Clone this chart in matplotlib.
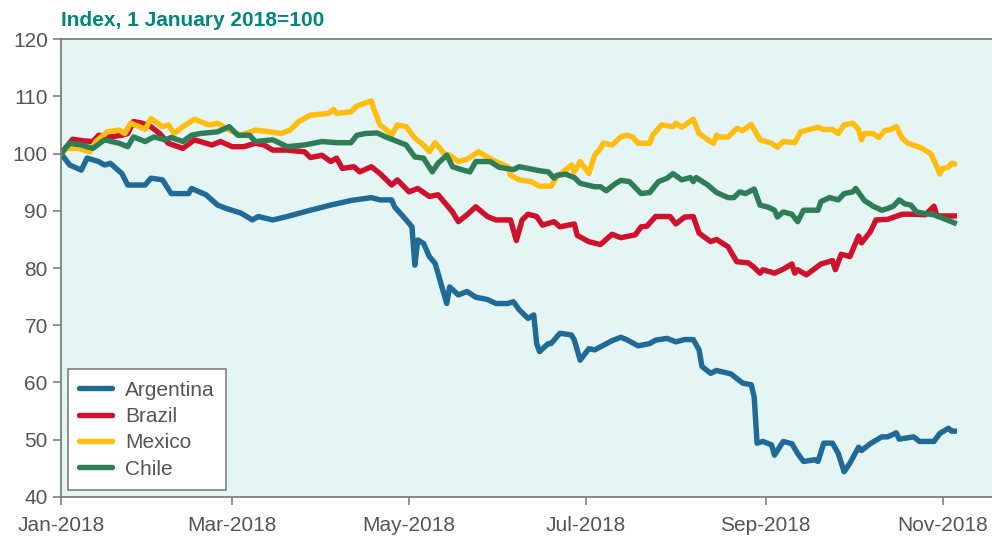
import matplotlib
matplotlib.use('Agg')
import matplotlib.pyplot as plt
import matplotlib.dates as mdates
import pandas as pd

plt.rcParams['font.family'] = ['Liberation Sans', 'DejaVu Sans']

# days counted from 1 January 2018, index values (1 Jan 2018 = 100)
arg_days = [0, 3, 7, 9, 13, 15, 17, 21, 23, 29, 31, 35, 38, 44, 45, 50, 54, 57, 62, 66,
            68, 73, 78, 86, 93, 100, 107, 110, 114, 115, 119, 121, 122, 123, 125, 127, 129,
            131, 133, 134, 137, 140, 143, 147, 150, 154, 156, 158, 161, 163, 164, 165, 168,
            169, 172, 176, 177, 179, 182, 184, 187, 190, 193, 195, 199, 203, 205, 209, 212,
            215, 218, 220, 221, 224, 226, 231, 235, 238, 239, 240, 242, 245, 246, 249, 252,
            254, 256, 260, 261, 263, 266, 268, 270, 272, 275, 276, 279, 283, 285, 288, 289,
            294, 296, 301, 303, 306, 307, 308]
arg_vals = [100, 98.0, 97.1, 99.2, 98.6, 98.0, 98.3, 96.5, 94.5, 94.5, 95.7, 95.4, 93.0, 93.0,
            93.9, 92.8, 91.0, 90.4, 89.6, 88.4, 89.0, 88.4, 89.0, 90.1, 91.0, 91.8, 92.3, 91.9,
            91.9, 90.7, 88.4, 87.2, 80.5, 84.9, 84.3, 82.0, 80.8, 77.3, 73.8, 76.7, 75.3, 75.9,
            74.9, 74.5, 73.8, 73.8, 74.1, 72.7, 71.2, 71.8, 66.8, 65.4, 66.8, 66.8, 68.6, 68.3,
            67.4, 63.9, 65.9, 65.7, 66.5, 67.3, 67.9, 67.5, 66.4, 66.8, 67.4, 67.7, 67.1, 67.5,
            67.5, 65.7, 62.8, 61.6, 62.1, 61.5, 59.9, 59.6, 57.5, 49.4, 49.7, 49.1, 47.3, 49.7,
            49.3, 47.6, 46.2, 46.5, 46.2, 49.4, 49.4, 47.6, 44.4, 45.9, 48.7, 48.1, 49.3, 50.5,
            50.5, 51.2, 50.1, 50.5, 49.7, 49.7, 51.1, 52.0, 51.5, 51.5]

bra_days = [0, 4, 8, 11, 13, 17, 21, 23, 25, 28, 31, 34, 37, 42, 46, 52, 55, 59, 63, 67, 70,
            73, 78, 84, 86, 90, 93, 95, 97, 101, 103, 107, 110, 114, 116, 120, 123, 127, 130,
            133, 135, 137, 140, 143, 147, 150, 155, 157, 159, 161, 164, 166, 170, 172, 177, 178,
            182, 186, 190, 193, 198, 200, 202, 205, 210, 212, 215, 218, 220, 224, 226, 230, 233,
            237, 239, 241, 242, 246, 249, 252, 253, 254, 257, 262, 266, 267, 269, 272, 275, 276,
            279, 281, 285, 290, 294, 298, 301, 302, 308]
bra_vals = [100, 102.5, 102.2, 102.1, 103.2, 102.9, 103.2, 103.5, 105.6, 105.3, 104.7, 103.5,
            101.8, 100.9, 102.4, 101.5, 102.1, 101.2, 101.2, 101.8, 101.5, 100.6, 100.6, 100.3,
            99.3, 99.7, 98.6, 99.2, 97.4, 97.7, 96.8, 97.7, 96.5, 94.5, 95.4, 93.3, 93.9, 92.5,
            92.8, 91.0, 89.8, 88.1, 89.3, 90.7, 89.0, 88.4, 88.4, 84.8, 88.4, 89.4, 89.0, 87.5,
            88.1, 87.2, 87.7, 85.7, 84.6, 84.1, 85.9, 85.3, 85.8, 87.2, 87.3, 89.0, 89.0, 87.7,
            88.9, 89.0, 86.1, 84.6, 85.0, 83.7, 81.1, 80.9, 80.1, 79.1, 79.7, 79.1, 79.8, 80.7,
            79.1, 79.7, 78.8, 80.7, 81.3, 79.7, 82.4, 82.0, 85.6, 84.4, 86.3, 88.4, 88.5, 89.4,
            89.4, 89.3, 90.8, 89.1, 89.1]

mex_days = [0, 2, 6, 10, 12, 16, 20, 22, 24, 27, 29, 31, 35, 37, 39, 42, 46, 51, 54, 58, 62,
            67, 72, 76, 79, 82, 86, 92, 94, 95, 100, 102, 107, 108, 110, 113, 114, 116, 119,
            122, 125, 127, 129, 132, 134, 137, 140, 144, 147, 150, 154, 155, 158, 162, 165, 169,
            171, 174, 176, 177, 179, 182, 184, 186, 187, 190, 193, 195, 197, 199, 203, 204, 207,
            211, 212, 214, 216, 218, 220, 223, 225, 226, 227, 230, 233, 235, 238, 240, 241, 245,
            247, 249, 253, 255, 258, 261, 263, 266, 268, 270, 273, 275, 276, 277, 280, 282, 284,
            286, 288, 290, 292, 295, 297, 300, 302, 303, 304, 306, 307, 308]
mex_vals = [100, 100.9, 100.9, 100.3, 102.1, 103.8, 104.1, 103.5, 105.3, 104.7, 104.2, 106.1,
            104.7, 105.0, 103.5, 104.7, 106.0, 105.0, 105.3, 104.1, 103.2, 104.1, 103.8, 103.5,
            104.1, 105.6, 106.7, 107.0, 107.7, 107.0, 107.3, 108.3, 109.2, 107.6, 105.0, 103.8,
            103.2, 105.0, 104.7, 102.7, 101.5, 100.3, 101.9, 100.0, 99.7, 98.6, 99.0, 100.3,
            99.4, 98.6, 97.7, 96.2, 95.4, 95.1, 94.3, 94.3, 96.0, 97.1, 98.0, 96.8, 98.6, 96.5,
            99.7, 100.9, 101.8, 101.5, 102.9, 103.2, 102.9, 101.8, 101.8, 103.2, 105.0, 104.7,
            105.3, 104.6, 105.3, 106.0, 103.5, 102.4, 101.8, 103.2, 102.9, 102.9, 104.4, 104.0,
            105.1, 103.3, 102.4, 101.8, 101.1, 102.1, 101.9, 103.8, 104.2, 104.6, 104.2, 104.2,
            103.5, 105.0, 105.3, 104.2, 102.4, 103.5, 103.5, 102.8, 104.0, 104.2, 104.7, 102.7,
            101.8, 101.3, 100.9, 99.9, 97.7, 96.4, 97.4, 97.6, 98.3, 98.2]

chl_days = [0, 3, 7, 11, 15, 20, 23, 25, 29, 32, 36, 38, 42, 45, 48, 54, 58, 61, 65, 67, 73,
            78, 84, 86, 90, 95, 100, 102, 105, 109, 112, 116, 119, 122, 125, 128, 130, 133, 135,
            138, 141, 143, 148, 151, 156, 158, 162, 165, 168, 170, 171, 174, 177, 179, 184, 186,
            188, 191, 193, 196, 200, 203, 206, 209, 211, 214, 217, 218, 219, 223, 226, 230, 232,
            234, 236, 239, 241, 244, 246, 247, 249, 252, 254, 256, 261, 262, 265, 268, 270, 273,
            274, 277, 280, 283, 285, 287, 289, 291, 293, 295, 298, 301, 304, 308]
chl_vals = [100, 101.8, 101.5, 100.9, 102.4, 101.8, 101.2, 102.9, 102.1, 102.9, 102.4, 102.8,
            102.1, 103.2, 103.5, 103.8, 104.7, 103.2, 103.2, 102.1, 102.4, 101.2, 101.5, 101.7,
            102.1, 101.9, 101.9, 103.2, 103.5, 103.6, 102.9, 102.1, 101.5, 99.4, 99.2, 96.8,
            98.3, 99.7, 97.7, 97.2, 96.8, 98.6, 98.6, 97.6, 97.2, 97.7, 97.3, 97.0, 96.8, 95.7,
            96.2, 96.4, 95.8, 94.8, 94.2, 94.2, 93.5, 94.7, 95.3, 95.1, 93.0, 93.2, 95.1, 95.7,
            96.5, 95.4, 95.8, 95.1, 95.8, 94.5, 93.2, 92.3, 92.3, 93.3, 93.0, 93.8, 91.0, 90.6,
            90.1, 88.9, 89.8, 89.4, 88.1, 90.1, 90.1, 91.6, 92.3, 91.9, 93.0, 93.3, 93.9, 91.8,
            90.8, 90.1, 90.4, 90.8, 91.9, 91.2, 91.0, 89.8, 89.5, 89.3, 88.7, 87.9]

start = pd.Timestamp('2018-01-01')


def to_dates(days):
    return start + pd.to_timedelta(days, unit='D')


fig = plt.figure(figsize=(9.92, 5.39), dpi=100)
ax = fig.add_axes([0.0615, 0.078, 0.9385, 0.8495])
ax.set_facecolor('#E5F5F4')

lw = 3.9
ax.plot(to_dates(arg_days), arg_vals, color='#1F6A96', lw=lw, label='Argentina', solid_joinstyle='round')
ax.plot(to_dates(bra_days), bra_vals, color='#D0112B', lw=lw, label='Brazil', solid_joinstyle='round')
ax.plot(to_dates(mex_days), mex_vals, color='#FFBE0F', lw=lw, label='Mexico', solid_joinstyle='round')
ax.plot(to_dates(chl_days), chl_vals, color='#2E7D57', lw=lw, label='Chile', solid_joinstyle='round')

ax.set_ylim(40, 120)
ax.set_yticks(range(40, 121, 10))
ax.set_xlim(start, start + pd.Timedelta(days=321))
ax.xaxis.set_major_locator(mdates.MonthLocator(bymonth=[1, 3, 5, 7, 9, 11]))
ax.xaxis.set_major_formatter(mdates.DateFormatter('%b-%Y'))

for s in ['left', 'bottom', 'top']:
    ax.spines[s].set_color('#7F7F7F')
    ax.spines[s].set_linewidth(1.3)
ax.spines['right'].set_visible(False)
ax.tick_params(axis='both', colors='#7F7F7F', labelcolor='#555555', labelsize=15,
               length=6, width=1.2)
ax.tick_params(axis='x', pad=8)

leg = ax.legend(loc='lower left', bbox_to_anchor=(0.007, 0.015), borderaxespad=0,
                fontsize=15, frameon=True, fancybox=False, framealpha=1, handlelength=1.6,
                labelspacing=0.35, borderpad=0.55, handletextpad=0.6)
leg.get_frame().set_edgecolor('#7F7F7F')
leg.get_frame().set_linewidth(1.2)
for t in leg.get_texts():
    t.set_color('#555555')
for h in leg.get_lines():
    h.set_solid_capstyle('round')

fig.text(0.061, 0.962, 'Index, 1 January 2018=100', color='#00877F', fontsize=15,
         fontweight='bold', ha='left', va='center')

fig.savefig('out.png', dpi=100)
